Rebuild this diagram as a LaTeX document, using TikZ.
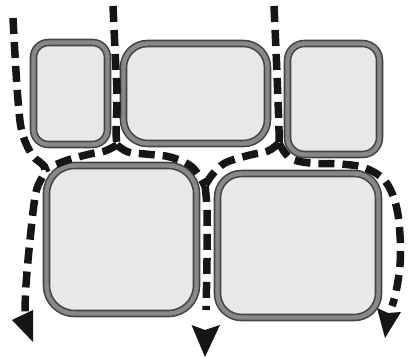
\documentclass[tikz,border=0pt]{standalone}
\begin{document}
\begin{tikzpicture}[x=1pt,y=-1pt]
\definecolor{cellfill}{HTML}{E8E8E8}
\definecolor{cellmid}{HTML}{888888}
\definecolor{celldark}{HTML}{444444}
\definecolor{flowcol}{HTML}{161616}
\tikzset{
  cell/.style={draw=celldark, line width=1.6pt, double=cellmid, double distance=4.4pt,
    fill=cellfill, inner sep=0pt, outer sep=0pt, rectangle},
  flow/.style={draw=flowcol, line width=7.5pt, dash pattern=on 16pt off 8pt},
  tiphead/.style={fill=flowcol},
}
\useasboundingbox (0,0) rectangle (408,358);
\fill[white] (0,0) rectangle (408,358);
% cells
\node[cell, minimum width=74pt, minimum height=102pt, rounded corners=15pt] (c1) at (70.5,93.5) {};
\node[cell, minimum width=144pt, minimum height=100pt, rounded corners=24pt] (c2) at (195.5,93.5) {};
\node[cell, minimum width=92pt, minimum height=111pt, rounded corners=17pt] (c3) at (333.5,99) {};
\node[cell, minimum width=150pt, minimum height=148pt, rounded corners=28pt] (c4) at (121.5,239.5) {};
\node[cell, minimum width=161pt, minimum height=144pt, rounded corners=24pt] (c5) at (298,245.5) {};
% junctions
\coordinate (j1) at (117,145);
\coordinate (j2) at (279,143);
\coordinate (mL) at (45,169);
\coordinate (mC) at (205,186);
% flow lines
\draw[flow] plot[smooth, tension=0.6] coordinates {(13,18) (15,55) (18,100) (22,132) (32,155) (mL) (36,192) (30,240) (26,285) (25,312)};
\draw[flow] plot[smooth, tension=0.6] coordinates {(113,6) (115,50) (117,95) (116,130) (j1)};
\draw[flow] plot[smooth, tension=0.6] coordinates {(j1) (105,151) (90,154) (68,160) (mL)};
\draw[flow] plot[smooth, tension=0.6] coordinates {(j1) (128,152) (145,154) (170,157) (192,167) (mC)};
\draw[flow] plot[smooth, tension=0.6] coordinates {(274,6) (276,50) (278,100) (279,130) (j2)};
\draw[flow] plot[smooth, tension=0.6] coordinates {(j2) (268,151) (250,155) (225,163) (212,175) (mC)};
\draw[flow] plot[smooth, tension=0.6] coordinates {(j2) (290,158) (310,163) (340,164) (365,168) (385,181) (396,205) (400,235) (400,265) (396,292) (392,306)};
\draw[flow] plot[smooth, tension=0.6] coordinates {(mC) (207,210) (207,260) (206,310)};
% arrow heads
\coordinate (tL) at (33,342);
\coordinate (tC) at (205,357);
\coordinate (tR) at (385,338);
\fill[tiphead] (12,320) -- (33,310) -- (tL) -- cycle;
\fill[tiphead] (191.5,325) -- (205,330) -- (220,325) -- (tC) -- cycle;
\fill[tiphead] (377,308) -- (388,313) -- (401,312) -- (tR) -- cycle;
\end{tikzpicture}
\end{document}
